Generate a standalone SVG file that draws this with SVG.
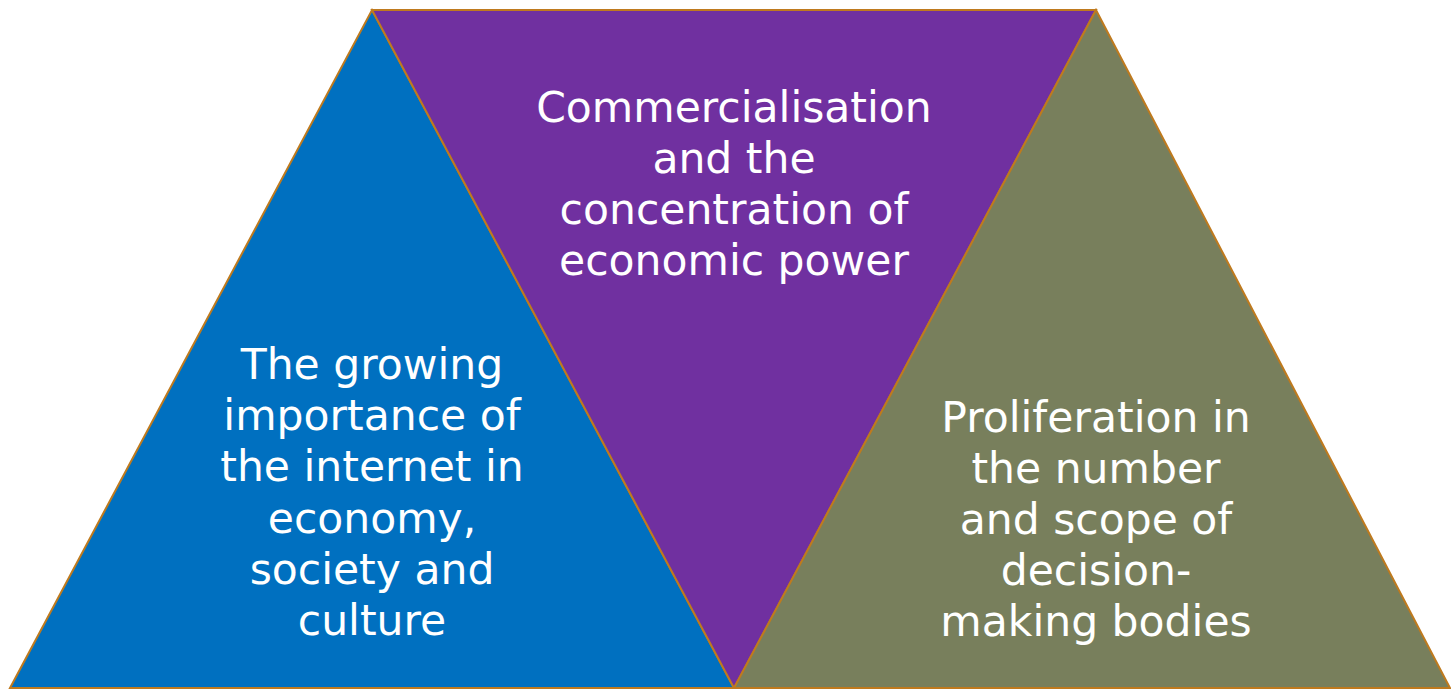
<svg xmlns="http://www.w3.org/2000/svg" width="1451" height="689" viewBox="0 0 1451 689">
<style>
.tri{stroke:#BF7A1E;stroke-width:2;stroke-linejoin:miter}
.lbl{font-family:"DejaVu Sans",sans-serif;font-size:42.5px;fill:#ffffff;text-anchor:middle}
</style>
<rect width="1451" height="689" fill="#ffffff"/>
<g id="node-left">
<polygon class="tri" points="372,10 734,688 10,688" fill="#0070C0"/>
<text class="lbl"><tspan x="372" y="379">The growing</tspan><tspan x="372" y="430.2">importance of</tspan><tspan x="372" y="481.4">the internet in</tspan><tspan x="372" y="532.6">economy,</tspan><tspan x="372" y="583.8">society and</tspan><tspan x="372" y="635">culture</tspan></text>
</g>
<g id="node-middle">
<polygon class="tri" points="372,10 1096,10 734,688" fill="#7030A0"/>
<text class="lbl"><tspan x="734" y="122">Commercialisation</tspan><tspan x="734" y="173">and the</tspan><tspan x="734" y="224">concentration of</tspan><tspan x="734" y="275">economic power</tspan></text>
</g>
<g id="node-right">
<polygon class="tri" points="1096,10 1450,688 734,688" fill="#787F5C"/>
<text class="lbl"><tspan x="1096" y="432">Proliferation in</tspan><tspan x="1096" y="483">the number</tspan><tspan x="1096" y="534">and scope of</tspan><tspan x="1096" y="585">decision-</tspan><tspan x="1096" y="636">making bodies</tspan></text>
</g>
<g id="connectors"></g>
</svg>
